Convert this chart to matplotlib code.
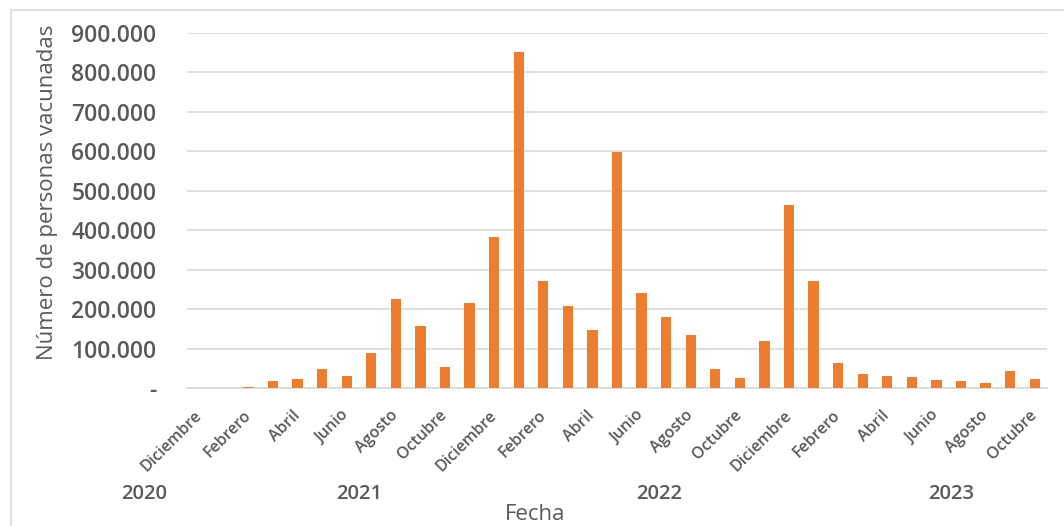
import matplotlib.pyplot as plt
from matplotlib.patches import Rectangle
from matplotlib.ticker import FuncFormatter, MultipleLocator
import matplotlib.transforms as mtransforms

# Monthly vaccinated people, Dec 2020 .. Oct 2023
months = ['Diciembre',
          'Enero', 'Febrero', 'Marzo', 'Abril', 'Mayo', 'Junio', 'Julio',
          'Agosto', 'Septiembre', 'Octubre', 'Noviembre', 'Diciembre',
          'Enero', 'Febrero', 'Marzo', 'Abril', 'Mayo', 'Junio', 'Julio',
          'Agosto', 'Septiembre', 'Octubre', 'Noviembre', 'Diciembre',
          'Enero', 'Febrero', 'Marzo', 'Abril', 'Mayo', 'Junio', 'Julio',
          'Agosto', 'Septiembre', 'Octubre']
vacunados = [0,
             0, 3000, 17000, 23000, 47000, 31000, 88000,
             225000, 156000, 54000, 215000, 383000,
             852000, 272000, 209000, 148000, 599000, 240000, 179000,
             135000, 47000, 25000, 119000, 463000,
             272000, 64000, 36000, 30000, 29000, 21000, 17000,
             13000, 42000, 22000]
years = ['2020', '2021', '2022', '2023']
year_pos = [-2.25, 6.5, 18.7, 30.6]  # label centres, in month index units

bar_color = '#ED7D31'
text_color = '#595959'
grid_color = '#D9D9D9'

plt.rcParams['font.family'] = ['Open Sans', 'DejaVu Sans']

fig = plt.figure(figsize=(10.64, 5.26), dpi=100)
ax = fig.add_axes([187 / 1064, 1 - 388 / 526, 860 / 1064, 355 / 526])

x = list(range(len(months)))
ax.bar(x, vacunados, width=0.42, color=bar_color, zorder=3)

ax.set_xlim(-0.5, len(months) - 0.5)
ax.set_ylim(0, 900000)
ax.yaxis.set_major_locator(MultipleLocator(100000))
ax.yaxis.set_major_formatter(FuncFormatter(
    lambda v, p: '-' if v == 0 else f'{int(v):,}'.replace(',', '.')))
ax.grid(axis='y', color=grid_color, linewidth=1.2, zorder=0)
ax.tick_params(axis='y', length=0, pad=22, labelsize=16.5, labelcolor=text_color)
for lbl in ax.get_yticklabels():
    lbl.set_fontweight('semibold')

# every other month labelled
ax.set_xticks(x[::2])
ax.set_xticklabels(months[::2], rotation=45, ha='right', va='center',
                   rotation_mode='anchor', fontsize=11.5, color=text_color,
                   fontweight='semibold')
ax.tick_params(axis='x', length=0, pad=18)

for side in ['top', 'right', 'left']:
    ax.spines[side].set_visible(False)
ax.spines['bottom'].set_color(grid_color)
ax.spines['bottom'].set_linewidth(1.2)

trans = mtransforms.blended_transform_factory(ax.transData, fig.transFigure)
for yr, pos in zip(years, year_pos):
    ax.text(pos, 1 - 494 / 526, yr, transform=trans, ha='center', va='center',
            fontsize=14.5, color=text_color, fontweight='semibold')

ax.set_ylabel('Número de personas vacunadas', fontsize=16, color=text_color)
ax.yaxis.set_label_coords(-0.15, 0.552)
fig.text(535 / 1064, 1 - 515 / 526, 'Fecha', ha='center', va='center',
         fontsize=16, color=text_color)

# chart area border
fig.patches.append(Rectangle((11 / 1064, -0.01), 1.0, 1 - 10 / 526 + 0.01,
                             transform=fig.transFigure, fill=False,
                             edgecolor=grid_color, linewidth=1.2))

fig.savefig('out.png', dpi=100)
